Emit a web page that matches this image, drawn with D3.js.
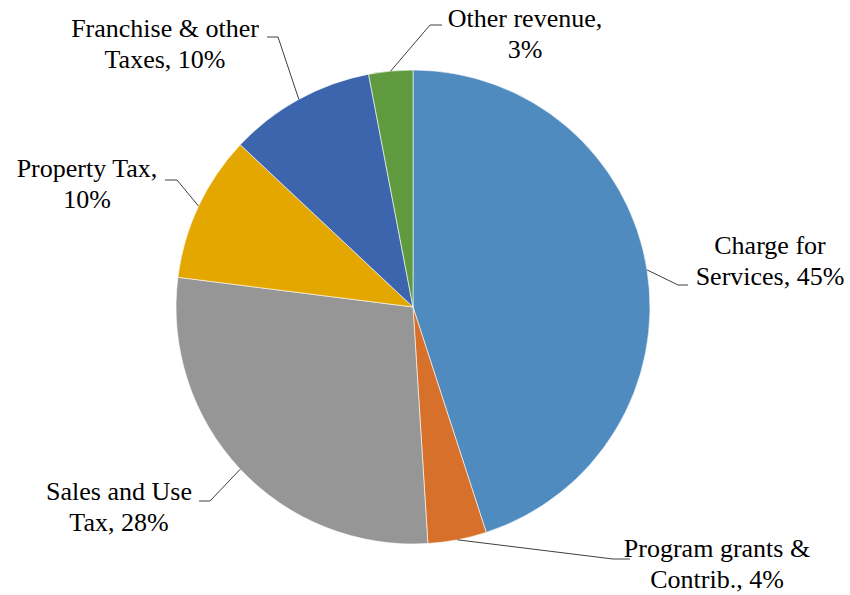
<!DOCTYPE html>
<html>
<head>
<meta charset="utf-8">
<script src="https://cdn.jsdelivr.net/npm/d3@7"></script>
<style>
  body { margin: 0; background: #fff; }
  svg text, svg tspan { font-family: "Liberation Serif", "DejaVu Serif", serif; }
</style>
</head>
<body>
<svg id="chart" width="850" height="595"></svg>
<script>
    // data
    const categories = ["Charge for Services", "Program grants & Contrib.", "Sales and Use Tax",
        "Property Tax", "Franchise & other Taxes", "Other revenue"];
    const shares = [45, 4, 28, 10, 10, 3];
    const labelLines = [
        ["Charge for", "Services, 45%"],
        ["Program grants &", "Contrib., 4%"],
        ["Sales and Use", "Tax, 28%"],
        ["Property Tax,", "10%"],
        ["Franchise & other", "Taxes, 10%"],
        ["Other revenue,", "3%"]
    ];
    const colors = ["#4f8bbe", "#d6702b", "#969696", "#e3a700", "#3c65ae", "#5f9a3e"];

    // label layout: elbow of leader line, end of short horizontal tick, text centre x, first baseline
    const labelLayout = [
        {elbow: [678, 285], tick: 688, cx: 770, y: 254},
        {elbow: [613, 559], tick: 630, cx: 717, y: 557},
        {elbow: [210, 501], tick: 199, cx: 119, y: 500},
        {elbow: [177, 180], tick: 165, cx: 87, y: 177},
        {elbow: [278, 37], tick: 267, cx: 165, y: 37},
        {elbow: [430, 25], tick: 442, cx: 525, y: 27}
    ];

    const svg = d3.select("#chart");
    const cx = 413, cy = 307, radius = 237;
    const fontSize = 26, lineGap = 31;

    const pie = d3.pie().sort(null).value(d => d)(shares);
    const arc = d3.arc().innerRadius(0).outerRadius(radius);

    const g = svg.append("g").attr("transform", `translate(${cx},${cy})`);

    g.selectAll("path")
        .data(pie)
        .join("path")
        .attr("d", arc)
        .attr("fill", (d, i) => colors[i])
        .attr("stroke", "#fff")
        .attr("stroke-width", 0.6);

    // leader lines start on the rim at the slice mid angle
    const rim = d3.arc().innerRadius(radius).outerRadius(radius);
    svg.append("g")
        .selectAll("polyline")
        .data(pie)
        .join("polyline")
        .attr("fill", "none")
        .attr("stroke", "#404040")
        .attr("stroke-width", 1)
        .attr("points", (d, i) => {
            const p = rim.centroid(d);
            const L = labelLayout[i];
            return [[p[0] + cx, p[1] + cy], L.elbow, [L.tick, L.elbow[1]]].map(q => q.join(",")).join(" ");
        });

    const labels = svg.append("g")
        .attr("font-size", fontSize)
        .attr("fill", "#000")
        .selectAll("text")
        .data(pie)
        .join("text")
        .attr("text-anchor", "middle");

    labels.each(function (d, i) {
        const L = labelLayout[i];
        d3.select(this).selectAll("tspan")
            .data(labelLines[i])
            .join("tspan")
            .attr("x", L.cx)
            .attr("y", (t, j) => L.y + j * lineGap)
            .text(t => t);
    });
</script>
</body>
</html>
